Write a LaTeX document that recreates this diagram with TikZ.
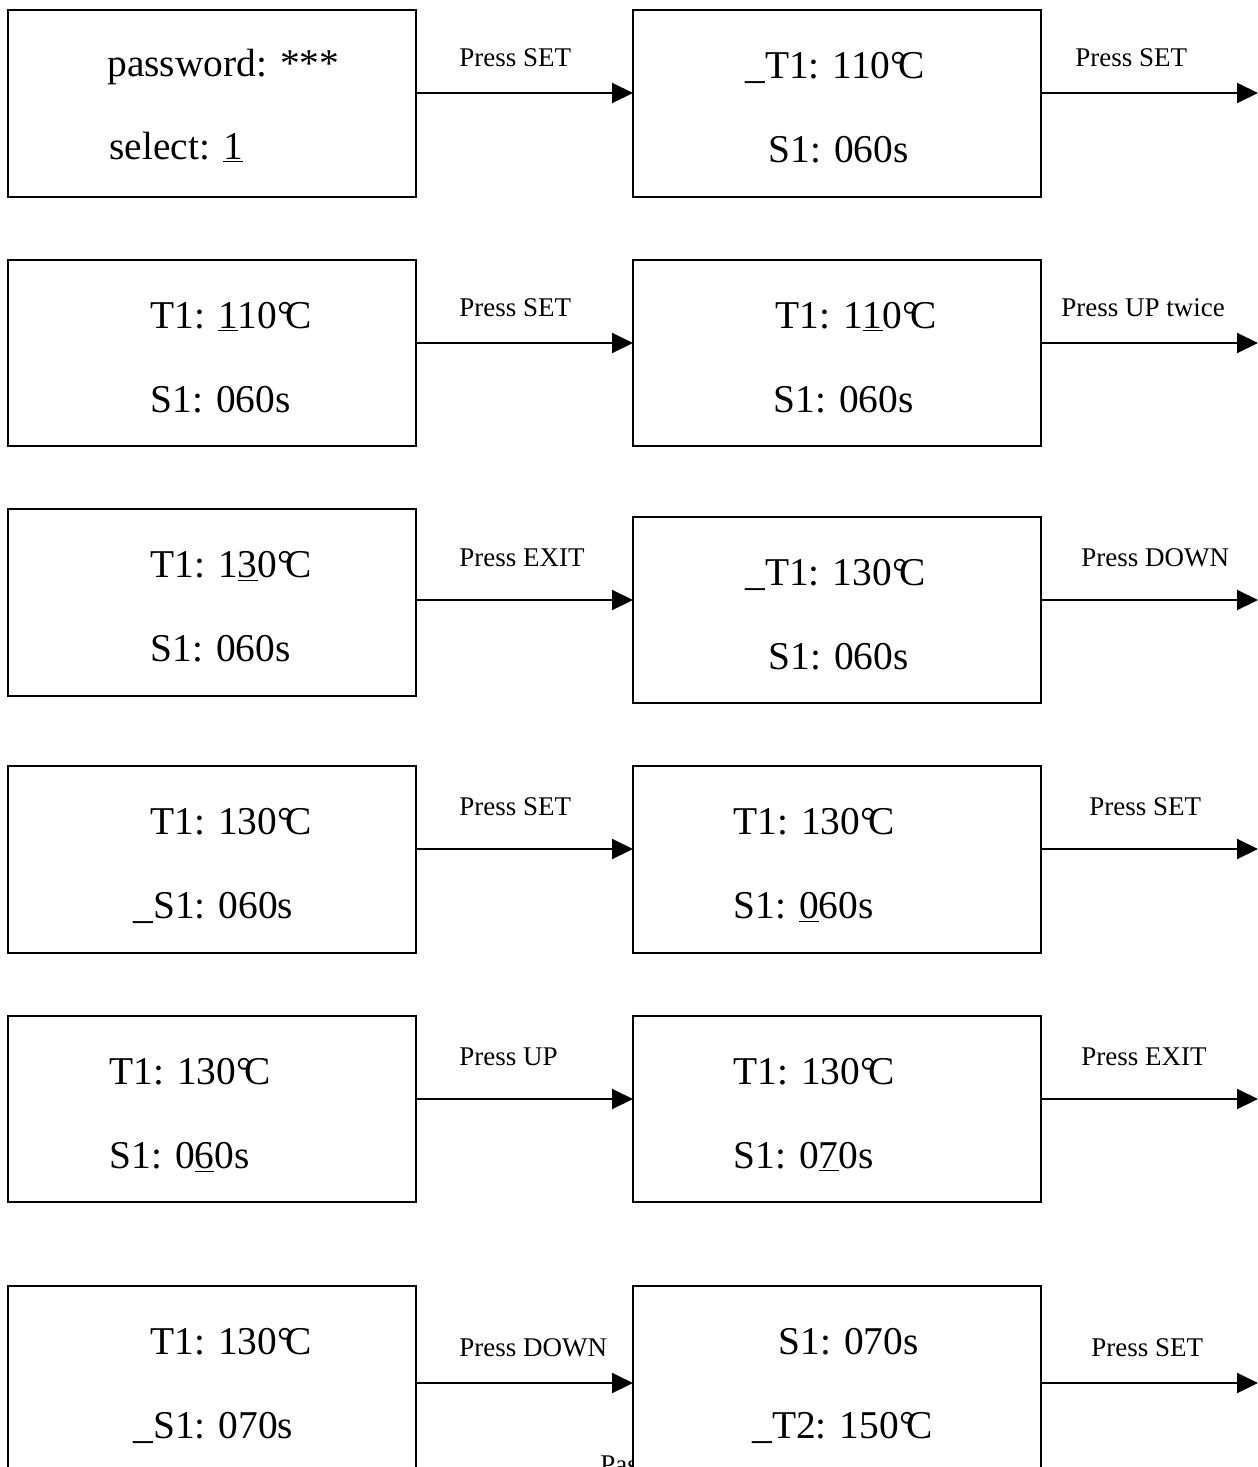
\documentclass[tikz,border=0pt]{standalone}
\usepackage{fontspec}
\setmainfont{Liberation Serif}
\usetikzlibrary{arrows.meta}
% degree Celsius sign built from the degree ring and C
\newcommand\dC{°\kern-0.2em C}
\begin{document}
\begin{tikzpicture}[x=0.5pt,y=-0.5pt,
  screen/.style={draw=black, line width=1pt, fill=white, minimum width=204pt,
    inner sep=0pt, outer sep=0pt},
  txt/.style={font=\fontsize{19.7pt}{24pt}\selectfont, anchor=base west, inner sep=0pt},
  lab/.style={font=\fontsize{13.5pt}{16pt}\selectfont, anchor=base west, inner sep=0pt},
  arr/.style={line width=1pt, -{Triangle[length=10.5pt,width=10pt]}}]
\useasboundingbox (0,0) rectangle (1258,1467);
\clip (0,0) rectangle (1258,1467);

% label partly covered by the last screen
\node[lab] (hid) at (600,1473) {Password};

% screens: left column and right column
\node[screen, minimum height=93.5pt, anchor=north west] (L1) at (8,10) {};
\node[screen, minimum height=93.5pt, anchor=north west] (R1) at (633,10) {};
\node[screen, minimum height=93pt, anchor=north west] (L2) at (8,260) {};
\node[screen, minimum height=93pt, anchor=north west] (R2) at (633,260) {};
\node[screen, minimum height=93.5pt, anchor=north west] (L3) at (8,509) {};
\node[screen, minimum height=93pt, anchor=north west] (R3) at (633,517) {};
\node[screen, minimum height=93.5pt, anchor=north west] (L4) at (8,766) {};
\node[screen, minimum height=93.5pt, anchor=north west] (R4) at (633,766) {};
\node[screen, minimum height=93pt, anchor=north west] (L5) at (8,1016) {};
\node[screen, minimum height=93pt, anchor=north west] (R5) at (633,1016) {};
\node[screen, minimum height=100pt, anchor=north west] (L6) at (8,1286) {};
\node[screen, minimum height=100pt, anchor=north west] (R6) at (633,1286) {};

% screen contents
\node[txt] (l1a) at (107,76) {password: ***};
\node[txt] (l1b) at (109,159) {select: \underline{1}};
\node[txt] (r1a) at (745,78) {\_T1: 110\dC};
\node[txt] (r1b) at (768,162) {S1: 060s};

\node[txt] (l2a) at (150,328) {T1: \underline{1}10\dC};
\node[txt] (l2b) at (150,412) {S1: 060s};
\node[txt] (r2a) at (775,328) {T1: 1\underline{1}0\dC};
\node[txt] (r2b) at (773,412) {S1: 060s};

\node[txt] (l3a) at (150,577) {T1: 1\underline{3}0\dC};
\node[txt] (l3b) at (150,661) {S1: 060s};
\node[txt] (r3a) at (745,585) {\_T1: 130\dC};
\node[txt] (r3b) at (768,669) {S1: 060s};

\node[txt] (l4a) at (150,834) {T1: 130\dC};
\node[txt] (l4b) at (133,918) {\_S1: 060s};
\node[txt] (r4a) at (733,834) {T1: 130\dC};
\node[txt] (r4b) at (733,918) {S1: \underline{0}60s};

\node[txt] (l5a) at (109,1084) {T1: 130\dC};
\node[txt] (l5b) at (109,1168) {S1: 0\underline{6}0s};
\node[txt] (r5a) at (733,1084) {T1: 130\dC};
\node[txt] (r5b) at (733,1168) {S1: 0\underline{7}0s};

\node[txt] (l6a) at (150,1354) {T1: 130\dC};
\node[txt] (l6b) at (133,1438) {\_S1: 070s};
\node[txt] (r6a) at (778,1354) {S1: 070s};
\node[txt] (r6b) at (752,1438) {\_T2: 150\dC};

% free ends of the outgoing arrows at the right margin
\coordinate (e1) at (1258,93);
\coordinate (e2) at (1258,343);
\coordinate (e3) at (1258,600);
\coordinate (e4) at (1258,849);
\coordinate (e5) at (1258,1099);
\coordinate (e6) at (1258,1383);

% transitions
\draw[arr] (L1.east |- e1) -- (R1.west |- e1);
\draw[arr] (R1.east |- e1) -- (e1);
\draw[arr] (L2.east |- e2) -- (R2.west |- e2);
\draw[arr] (R2.east |- e2) -- (e2);
\draw[arr] (L3.east |- e3) -- (R3.west |- e3);
\draw[arr] (R3.east |- e3) -- (e3);
\draw[arr] (L4.east |- e4) -- (R4.west |- e4);
\draw[arr] (R4.east |- e4) -- (e4);
\draw[arr] (L5.east |- e5) -- (R5.west |- e5);
\draw[arr] (R5.east |- e5) -- (e5);
\draw[arr] (L6.east |- e6) -- (R6.west |- e6);
\draw[arr] (R6.east |- e6) -- (e6);

% key labels
\node[lab] (k1a) at (459,66) {Press SET};
\node[lab] (k1b) at (1075,66) {Press SET};
\node[lab] (k2a) at (459,316) {Press SET};
\node[lab] (k2b) at (1061,316) {Press UP twice};
\node[lab] (k3a) at (459,566) {Press EXIT};
\node[lab] (k3b) at (1081,566) {Press DOWN};
\node[lab] (k4a) at (459,815) {Press SET};
\node[lab] (k4b) at (1089,815) {Press SET};
\node[lab] (k5a) at (459,1065) {Press UP};
\node[lab] (k5b) at (1081,1065) {Press EXIT};
\node[lab] (k6a) at (459,1356) {Press DOWN};
\node[lab] (k6b) at (1091,1356) {Press SET};
\end{tikzpicture}
\end{document}
